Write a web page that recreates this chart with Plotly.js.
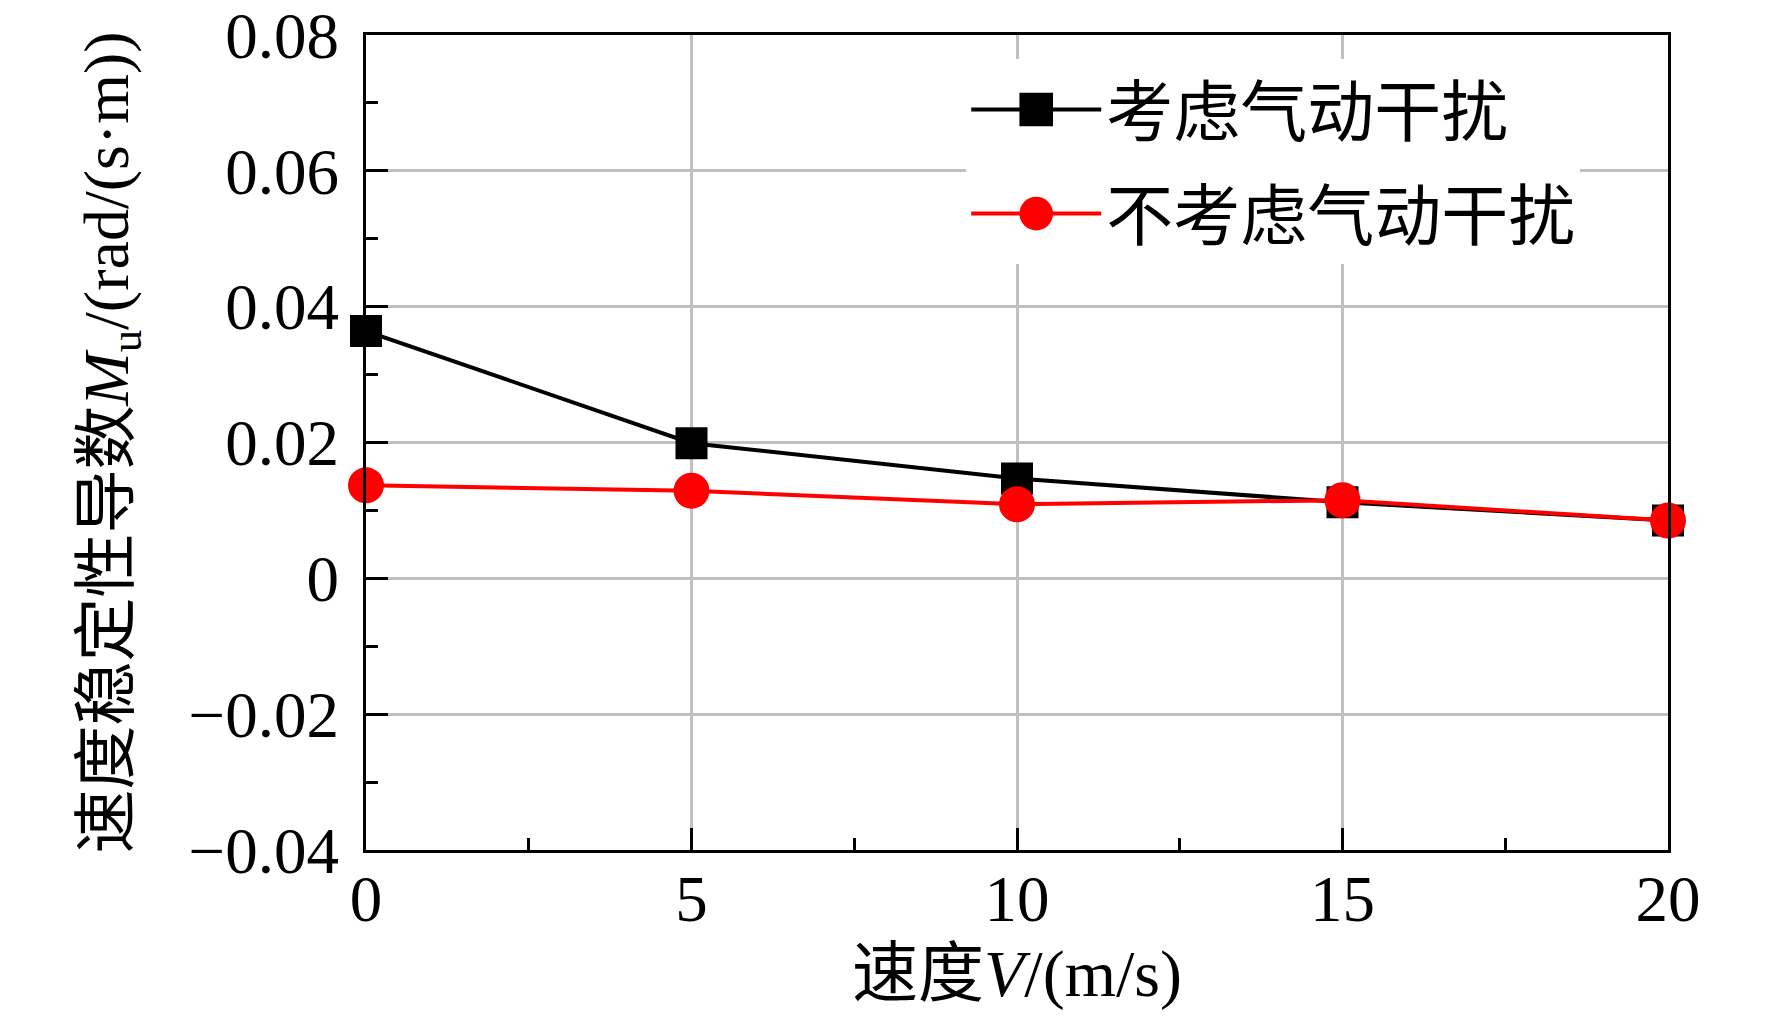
<!DOCTYPE html>
<html>
<head>
<meta charset="utf-8">
<script src="https://cdn.plot.ly/plotly-3.0.1.min.js"></script>
<style>
  html, body { margin: 0; padding: 0; background: #fff; }
  #chart { width: 1772px; height: 1021px; }
</style>
</head>
<body>
<div id="chart"></div>
<script>
var speeds = [0, 5, 10, 15, 20];
var withAero = [0.0364, 0.0199, 0.0147, 0.0112, 0.0085];
var withoutAero = [0.0137, 0.0129, 0.0109, 0.0115, 0.0085];
var seriesNames = ['考虑气动干扰', '不考虑气动干扰'];
var yTickVals = [-0.04, -0.02, 0, 0.02, 0.04, 0.06, 0.08];
var yTickText = ['\u22120.04', '\u22120.02', '0', '0.02', '0.04', '0.06', '0.08'];
var xTickVals = [0, 5, 10, 15, 20];
var xTickText = ['0', '5', '10', '15', '20'];

var serif = '"Liberation Serif", "Times New Roman", "Noto Sans CJK SC", serif';

var data = [{
    x: speeds,
    y: withAero,
    name: seriesNames[0],
    legendgroup: 'a',
    type: 'scatter',
    mode: 'lines+markers',
    cliponaxis: false,
    line: { color: '#000000', width: 4 },
    marker: { symbol: 'square', size: 32, color: '#000000' }
}, {
    x: speeds,
    y: withoutAero,
    name: seriesNames[1],
    legendgroup: 'b',
    type: 'scatter',
    mode: 'lines+markers',
    cliponaxis: false,
    line: { color: '#ff0000', width: 4 },
    marker: { symbol: 'circle', size: 36, color: '#ff0000' }
}];

var axisCommon = {
    showline: true,
    linecolor: '#000000',
    linewidth: 3,
    mirror: true,
    showgrid: true,
    gridcolor: '#c0c0c0',
    gridwidth: 3,
    zeroline: false,
    ticks: 'inside',
    ticklen: 22,
    tickwidth: 3,
    tickcolor: '#000000',
    ticklabeloverflow: 'allow',
    tickfont: { family: serif, size: 65, color: '#000000' }
};

var layout = {
    width: 1772,
    height: 1021,
    margin: { l: 366, r: 104, t: 35, b: 171 },
    paper_bgcolor: '#ffffff',
    plot_bgcolor: '#ffffff',
    font: { family: serif, color: '#000000' },
    showlegend: true,
    legend: {
        x: 0.461, y: 0.97,
        xanchor: 'left', yanchor: 'top',
        bgcolor: '#ffffff',
        borderwidth: 0,
        traceorder: 'grouped',
        tracegroupgap: 14,
        itemwidth: 130,
        font: { family: serif, size: 67, color: '#000000' }
    },
    xaxis: Object.assign({}, axisCommon, {
        range: [0, 20],
        tickmode: 'array',
        tickvals: xTickVals,
        ticktext: xTickText,
        ticklabelstandoff: -10,
        minor: { dtick: 2.5, ticks: 'inside', ticklen: 12, tickwidth: 3, tickcolor: '#000000', showgrid: false },
        title: { text: '速度<i>V</i>/(m/s)', font: { family: serif, size: 66, color: '#000000' }, standoff: 16 }
    }),
    yaxis: Object.assign({}, axisCommon, {
        range: [-0.04, 0.08],
        tickmode: 'array',
        tickvals: yTickVals,
        ticktext: yTickText,
        ticklabelstandoff: 11,
        minor: { dtick: 0.01, ticks: 'inside', ticklen: 12, tickwidth: 3, tickcolor: '#000000', showgrid: false },
        title: { text: '速度稳定性导数<i>M</i><sub>u</sub>/(rad/(s·m))', font: { family: serif, size: 64, color: '#000000' }, standoff: 40 }
    })
};

var config = { displayModeBar: false, displaylogo: false, staticPlot: true };

Plotly.newPlot('chart', data, layout, config).then(function (gd) {
    // legend markers are capped at 16px by plotly, scale them up to match the plot markers
    gd.querySelectorAll('.legend .legendpoints path.scatterpts').forEach(function (p) {
        var t = p.getAttribute('transform') || '';
        p.setAttribute('transform', t + ' scale(2.1)');
    });
});
</script>
</body>
</html>
